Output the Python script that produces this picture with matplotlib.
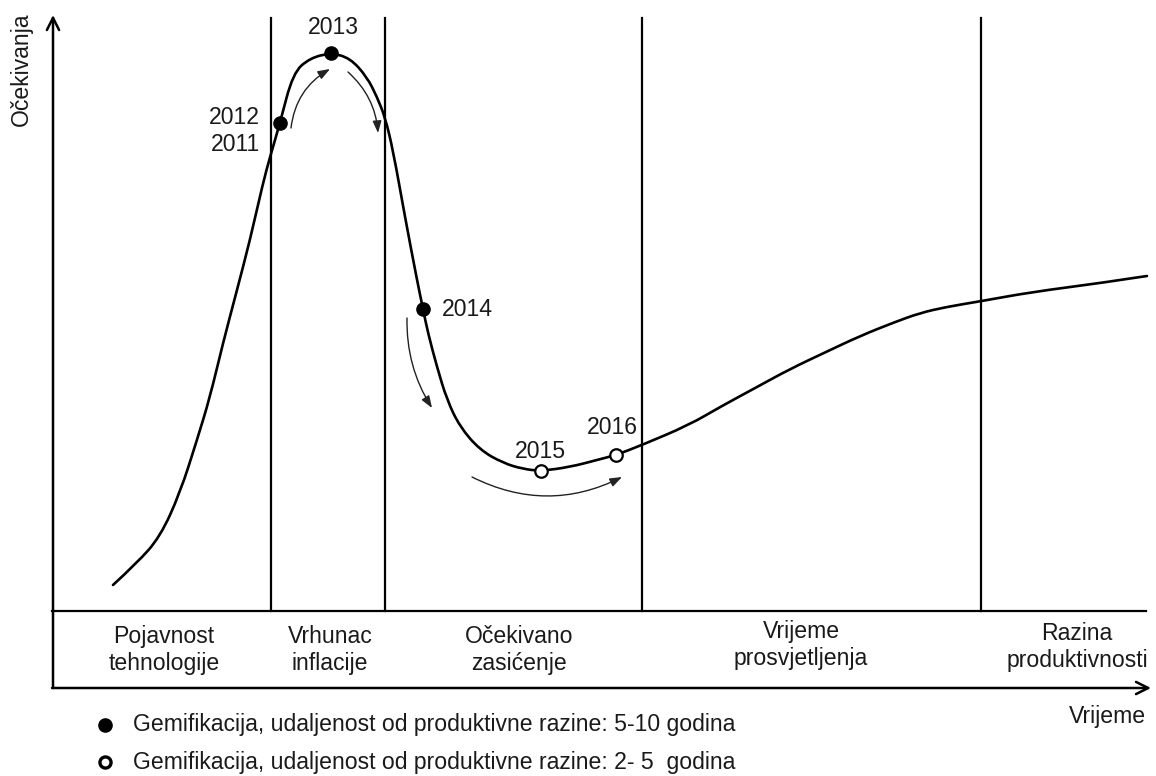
import matplotlib
matplotlib.use('Agg')
import matplotlib.pyplot as plt
from matplotlib.path import Path
from matplotlib.patches import PathPatch

# --- Data (in picture units: x = time, y = depth from top) ---
curve_x = [113, 137, 160, 180, 197, 210, 223, 237, 250, 263, 270, 280, 293, 310, 331,
           350, 367, 377, 385, 393, 405, 417, 423, 428, 437, 447, 460, 480, 503, 523,
           541, 570, 597, 616, 642, 689, 720, 757, 790, 826, 860, 895, 920, 946, 982,
           1032, 1101, 1147]
curve_y = [585, 563, 537, 493, 440, 397, 343, 290, 240, 183, 157, 123, 73, 58, 53,
           58, 77, 97, 117, 150, 217, 280, 309, 333, 367, 400, 427, 450, 463, 469,
           471, 467, 460, 455, 445, 425, 407, 387, 369, 352, 336, 322, 313, 307, 301,
           292, 283, 276]

years_full = ['2012\n2011', '2013', '2014']
full_x = [280, 331, 423]
full_y = [123, 53, 309]

years_open = ['2015', '2016']
open_x = [541, 616]
open_y = [471, 455]

phase_bounds = [271, 385, 642, 981]
phase_labels = ['Pojavnost\ntehnologije', 'Vrhunac\ninflacije', 'Očekivano\nzasićenje',
                'Vrijeme\nprosvjetljenja', 'Razina\nproduktivnosti']
phase_label_x = [164, 330, 519, 801, 1077]
phase_label_y = [650, 650, 650, 645, 647]

legend_labels = ['Gemifikacija, udaljenost od produktivne razine: 5-10 godina',
                 'Gemifikacija, udaljenost od produktivne razine: 2- 5  godina']
# ---------------------

plt.rcParams['font.family'] = ['Liberation Sans', 'DejaVu Sans']
TXT = '#1a1a1a'
FS = 16.6

fig = plt.figure(figsize=(11.56, 7.76), dpi=100)
ax = fig.add_axes([0, 0, 1, 1])
ax.set_xlim(0, 1156)
ax.set_ylim(776, 0)
ax.axis('off')

# axes arrows
ax.annotate('', xy=(53, 15), xytext=(53, 688),
            arrowprops=dict(arrowstyle='->', lw=1.8, color='black', mutation_scale=22,
                            shrinkA=0, shrinkB=0))
ax.annotate('', xy=(1151, 688), xytext=(52, 688),
            arrowprops=dict(arrowstyle='->', lw=1.8, color='black', mutation_scale=22,
                            shrinkA=0, shrinkB=0))
ax.plot([52, 1146], [611, 611], color='black', lw=1.6)
for xb in phase_bounds:
    ax.plot([xb, xb], [18, 611], color='black', lw=1.6)

# hype curve: read points used as quadratic control points for a smooth stroke
pts = list(zip(curve_x, curve_y))
verts = [pts[0]]
codes = [Path.MOVETO]
for i in range(1, len(pts) - 2):
    mid = ((pts[i][0] + pts[i + 1][0]) / 2, (pts[i][1] + pts[i + 1][1]) / 2)
    verts += [pts[i], mid]
    codes += [Path.CURVE3, Path.CURVE3]
verts += [pts[-2], pts[-1]]
codes += [Path.CURVE3, Path.CURVE3]
ax.add_patch(PathPatch(Path(verts, codes), fill=False, lw=1.9, edgecolor='black',
                       capstyle='round', joinstyle='round', zorder=3))

# small direction arrows
small = dict(arrowstyle='-|>,head_length=0.6,head_width=0.22', lw=1.0, color='#222222',
             mutation_scale=12, shrinkA=0, shrinkB=0)
for (x0, y0), (x1, y1), rad in [((291, 128), (330, 69), -0.25),
                                ((348, 72), (378, 133), -0.2),
                                ((407, 318), (432, 408), 0.15),
                                ((472, 477), (622, 477), 0.25)]:
    ax.annotate('', xy=(x1, y1), xytext=(x0, y0),
                arrowprops=dict(small, connectionstyle=f'arc3,rad={rad}'))

# year markers
ax.plot(full_x, full_y, 'o', ms=9.5, color='black', zorder=5)
ax.plot(open_x, open_y, 'o', ms=9, mfc='white', mec='black', mew=1.6, zorder=5)

ax.text(260, 131, years_full[0], ha='right', va='center', fontsize=FS, color=TXT,
        linespacing=1.2)
ax.text(333, 27, years_full[1], ha='center', va='center', fontsize=FS, color=TXT)
ax.text(442, 309, years_full[2], ha='left', va='center', fontsize=FS, color=TXT)
ax.text(540, 451, years_open[0], ha='center', va='center', fontsize=FS, color=TXT)
ax.text(612, 428, years_open[1], ha='center', va='center', fontsize=FS, color=TXT)

# phase labels
for lab, px, py in zip(phase_labels, phase_label_x, phase_label_y):
    ax.text(px, py, lab, ha='center', va='center', fontsize=FS, color=TXT,
            linespacing=1.25, multialignment='center')

# axis titles
ax.text(21, 69, 'Očekivanja', rotation=90, ha='center', va='center', fontsize=FS, color=TXT)
ax.text(1146, 717, 'Vrijeme', ha='right', va='center', fontsize=FS, color=TXT)

# legend
ax.plot([105], [725], 'o', ms=9.5, color='black')
ax.plot([105], [762], 'o', ms=8, mfc='white', mec='black', mew=2.4)
ax.text(133, 725, legend_labels[0], ha='left', va='center', fontsize=FS, color=TXT)
ax.text(133, 762, legend_labels[1], ha='left', va='center', fontsize=FS, color=TXT)

fig.savefig('out.png', dpi=100, facecolor='white')
